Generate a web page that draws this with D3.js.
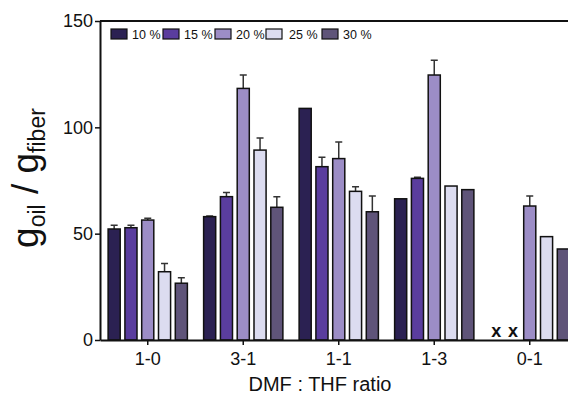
<!DOCTYPE html>
<html>
<head>
<meta charset="utf-8">
<script src="https://cdn.jsdelivr.net/npm/d3@7"></script>
<style>
  body { margin: 0; background: #fff; }
  svg { display: block; font-family: "Liberation Sans", Arial, sans-serif; }
</style>
</head>
<body>
<svg width="568" height="397"></svg>
<script>
// DMF : THF ratio groups
var categories = ['1-0', '3-1', '1-1', '1-3', '0-1']
var series = ['10 %', '15 %', '20 %', '25 %', '30 %']

// g oil / g fiber, one array per polymer concentration (null = no fiber, marked x)
var v10 = [52.2, 58.0, 108.9, 66.4, null]
var v15 = [52.8, 67.4, 81.5, 76.0, null]
var v20 = [56.4, 118.3, 85.3, 124.6, 63.0]
var v25 = [32.1, 89.3, 69.9, 72.4, 48.6]
var v30 = [26.7, 62.4, 60.3, 70.7, 42.8]

// upper error bars
var e10 = [1.8, 0.3, 0, 0, null]
var e15 = [1.2, 1.9, 4.4, 0.5, null]
var e20 = [0.8, 6.3, 7.8, 7.0, 4.7]
var e25 = [3.9, 5.7, 2.2, 0, 0]
var e30 = [2.6, 5.0, 7.4, 0, 0]

var yTicks = [0, 50, 100, 150]

var colors = ['#2b2152', '#5a3d9e', '#9c8dc6', '#dcdcf0', '#5f5479']

var vals = [v10, v15, v20, v25, v30]
var errs = [e10, e15, e20, e25, e30]

var rows = []
categories.forEach(function(c, ci) {
    series.forEach(function(s, si) {
        rows.push({cat: c, ser: s, si: si, v: vals[si][ci], e: errs[si][ci]})
    })
})

var svg = d3.select('svg')
// note: "top" is taken by window.top, so plot edges get other names
var plotL = 100, plotT = 21, plotB = 340

var x0 = d3.scaleBand()
    .domain(categories)
    .range([plotL, plotL + 5 * 95.5])
    .paddingInner(0.17)
    .paddingOuter(0.085)

var x1 = d3.scaleBand()
    .domain(series)
    .range([0, x0.bandwidth()])
    .paddingInner(0.28)

var y = d3.scaleLinear().domain([0, 150]).range([plotB, plotT])

// bars
var bars = rows.filter(function(d) { return d.v != null })

svg.selectAll('path.err')
    .data(bars.filter(function(d) { return d.e > 0 }))
    .enter()
    .append('path')
    .attr('class', 'err')
    .attr('fill', 'none')
    .attr('stroke', '#333')
    .attr('stroke-width', 1.5)
    .attr('d', function(d) {
        var cx = x0(d.cat) + x1(d.ser) + x1.bandwidth() / 2
        var yt = y(d.v + d.e)
        return 'M' + cx + ',' + y(d.v) + 'V' + yt + 'M' + (cx - 3.5) + ',' + yt + 'H' + (cx + 3.5)
    })

svg.selectAll('rect.bar')
    .data(bars)
    .enter()
    .append('rect')
    .attr('class', 'bar')
    .attr('x', function(d) { return x0(d.cat) + x1(d.ser) })
    .attr('width', x1.bandwidth())
    .attr('y', function(d) { return y(d.v) })
    .attr('height', function(d) { return y(0) - y(d.v) })
    .attr('fill', function(d) { return colors[d.si] })
    .attr('stroke', '#111')
    .attr('stroke-width', 1.5)

// missing samples
svg.selectAll('text.miss')
    .data(rows.filter(function(d) { return d.v == null }))
    .enter()
    .append('text')
    .attr('class', 'miss')
    .attr('x', function(d) { return x0(d.cat) + x1(d.ser) + x1.bandwidth() / 2 })
    .attr('y', plotB - 3)
    .attr('text-anchor', 'middle')
    .attr('font-size', 18)
    .attr('font-weight', 'bold')
    .attr('fill', '#111')
    .text('x')

// axes
var yAxis = svg.append('g')
    .attr('transform', 'translate(' + plotL + ',0)')
    .call(d3.axisLeft(y).tickValues(yTicks).tickSize(5).tickPadding(2).tickSizeOuter(0))

var xAxis = svg.append('g')
    .attr('transform', 'translate(0,' + plotB + ')')
    .call(d3.axisBottom(x0).tickSize(5).tickPadding(7).tickSizeOuter(0))

yAxis.attr('font-size', 18).attr('font-family', null)
xAxis.attr('font-size', 18).attr('font-family', null)
svg.selectAll('.tick text').attr('fill', '#111')
svg.selectAll('.domain').attr('stroke', '#111').attr('stroke-width', 2)
svg.selectAll('.tick line').attr('stroke', '#111').attr('stroke-width', 1.5)

// top frame line
svg.append('line')
    .attr('x1', plotL).attr('x2', 568)
    .attr('y1', plotT).attr('y2', plotT)
    .attr('stroke', '#111').attr('stroke-width', 2)

// axis titles
svg.append('text')
    .attr('x', 320).attr('y', 391)
    .attr('text-anchor', 'middle')
    .attr('font-size', 20)
    .attr('fill', '#111')
    .text('DMF : THF ratio')

var yl = svg.append('text')
    .attr('transform', 'translate(38,178) rotate(-90)')
    .attr('text-anchor', 'middle')
    .attr('font-size', 37)
    .attr('fill', '#111')
yl.append('tspan').text('g')
yl.append('tspan').attr('font-size', 23).attr('dy', 7).text('oil')
yl.append('tspan').attr('dy', -7).text(' / g')
yl.append('tspan').attr('font-size', 23).attr('dy', 7).text('fiber')

// legend
var legendX = [111, 163, 215, 266, 322]
var leg = svg.selectAll('g.leg')
    .data(series)
    .enter()
    .append('g')
    .attr('class', 'leg')
    .attr('transform', function(d, i) { return 'translate(' + legendX[i] + ',29)' })
leg.append('rect')
    .attr('width', 16).attr('height', 10)
    .attr('fill', function(d, i) { return colors[i] })
    .attr('stroke', '#111').attr('stroke-width', 1.2)
leg.append('text')
    .attr('x', function(d, i) { return i == 3 ? 23 : 21 })
    .attr('y', 10)
    .attr('font-size', 12.5)
    .attr('fill', '#111')
    .text(function(d) { return d })
</script>
</body>
</html>
